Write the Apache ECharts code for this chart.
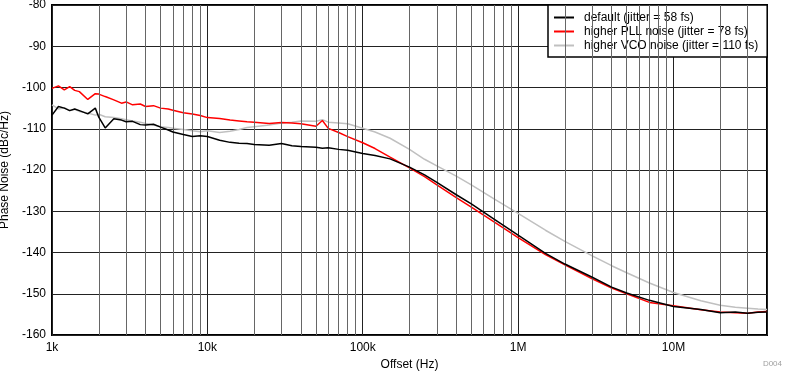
<!DOCTYPE html>
<html>
<head>
<meta charset="utf-8">
<script src="https://cdn.jsdelivr.net/npm/echarts@6/dist/echarts.min.js"></script>
<style>
html,body{margin:0;padding:0;background:#fff;}
#chart{width:785px;height:371px;}
</style>
</head>
<body>
<div id="chart"></div>
<script>
// Offset frequencies (Hz)
var freqs = [1000,1100,1200,1300,1400,1500,1700,1900,2000,2200,2500,2800,3000,3300,3700,4000,4500,5000,5600,6000,7000,8000,9000,10000,12000,14000,16000,18000,20000,25000,30000,35000,40000,50000,55000,60000,70000,80000,100000,120000,150000,200000,250000,300000,400000,500000,700000,1000000,1500000,2000000,3000000,4000000,5000000,7000000,10000000,15000000,20000000,25000000,30000000,35000000,40000000];

var seriesNames = ['default (jitter = 58 fs)','higher PLL noise (jitter = 78 fs)','higher VCO noise (jitter = 110 fs)'];

var defaultNoise = [-106.7,-104.6,-105.0,-105.6,-105.2,-105.6,-106.4,-105.0,-107.2,-109.8,-107.6,-107.9,-108.3,-108.2,-109.0,-109.1,-108.9,-109.6,-110.3,-110.8,-111.4,-111.9,-111.7,-111.9,-112.8,-113.3,-113.5,-113.6,-113.8,-114.0,-113.6,-114.1,-114.3,-114.5,-114.7,-114.6,-115.0,-115.2,-116.0,-116.5,-117.3,-119.3,-121.2,-123.0,-126.0,-128.2,-131.9,-135.8,-140.2,-142.8,-146.0,-148.4,-149.8,-151.6,-153.1,-153.8,-154.6,-154.4,-154.7,-154.5,-154.4];

var pllNoise = [-100.2,-99.6,-100.6,-99.8,-100.7,-101.0,-102.9,-101.5,-101.6,-102.2,-103.0,-103.8,-103.5,-104.2,-104.0,-104.6,-104.4,-105.0,-105.2,-105.5,-106.1,-106.4,-106.8,-107.3,-107.5,-107.9,-108.1,-108.3,-108.4,-108.7,-108.5,-108.6,-108.8,-109.4,-108.0,-109.9,-110.9,-111.9,-113.4,-114.8,-116.9,-119.5,-121.6,-123.6,-126.7,-129.0,-132.6,-136.4,-140.5,-143.0,-146.4,-148.6,-150.0,-152.1,-152.9,-153.9,-154.4,-154.6,-154.7,-154.4,-154.3];

var vcoNoise = [-104.2,-105.2,-104.9,-105.6,-105.3,-105.8,-106.2,-106.7,-106.5,-107.1,-107.3,-107.6,-107.8,-108.1,-108.4,-108.7,-109.1,-109.5,-109.7,-109.9,-110.2,-110.5,-110.7,-110.5,-110.9,-110.6,-110.2,-109.7,-109.5,-109.1,-108.6,-108.4,-108.1,-108.2,-107.8,-108.4,-108.6,-108.8,-109.9,-110.8,-112.3,-115.0,-117.4,-119.0,-121.5,-123.6,-127.0,-130.5,-134.6,-137.3,-140.8,-143.2,-144.9,-147.4,-149.7,-151.7,-152.8,-153.3,-153.5,-153.7,-153.8];

// minor grid positions (2..9 per decade)
var minorGrid = [];
[1e3,1e4,1e5,1e6,1e7].forEach(function(d){
  for (var k=2;k<=9;k++){ var v=d*k; if (v<4e7) minorGrid.push(v); }
});
var xLabels = {1000:'1k',10000:'10k',100000:'100k',1000000:'1M',10000000:'10M'};

function pairs(vals){ return freqs.map(function(f,i){ return [f, vals[i]]; }); }

var chart = echarts.init(document.getElementById('chart'), null, {renderer:'canvas'});
var font = 'Liberation Sans, Arial, sans-serif';
chart.setOption({
  animation:false,
  backgroundColor:'#fff',
  textStyle:{fontFamily:font},
  grid:{left:52,top:5,right:18,bottom:36,containLabel:false,outerBoundsMode:'none',show:true,borderColor:'#000',borderWidth:2,backgroundColor:'transparent'},
  xAxis:{
    type:'log', logBase:10, min:1000, max:40000000,
    name:'Offset (Hz)', nameLocation:'middle', nameGap:20,
    nameTextStyle:{color:'#000',fontSize:12,fontFamily:font},
    axisLine:{show:false},
    axisTick:{show:false},
    axisLabel:{color:'#000',fontSize:12,fontFamily:font,margin:7,
      formatter:function(v){ return xLabels[Math.round(v)] || ''; }},
    splitLine:{show:true,lineStyle:{color:'#222',width:1}},
    minorTick:{show:false}, minorSplitLine:{show:false}
  },
  yAxis:{
    type:'value', min:-160, max:-80, interval:10,
    name:'Phase Noise (dBc/Hz)', nameLocation:'middle', nameGap:32,
    nameTextStyle:{color:'#000',fontSize:12,fontFamily:font},
    axisLine:{show:false}, axisTick:{show:false},
    axisLabel:{color:'#000',fontSize:12,fontFamily:font,margin:6},
    splitLine:{show:true,lineStyle:{color:'#222',width:1}}
  },
  legend:{
    orient:'vertical', left:548, top:5,
    data:seriesNames,
    icon:'rect', itemWidth:20, itemHeight:2, itemGap:1,
    backgroundColor:'#fff', borderColor:'#000', borderWidth:1.5,
    padding:[6,9,5,6],
    textStyle:{color:'#000',fontSize:12,fontFamily:font,lineHeight:13,padding:[0,0,0,5]}
  },
  series:[
    {type:'line', name:'minor', silent:true, data:[], symbol:'none', z:1,
     markLine:{silent:true, symbol:['none','none'], label:{show:false},
       lineStyle:{color:'#666',width:1,type:'solid'},
       data:minorGrid.map(function(v){return {xAxis:v};})}},
    {type:'line', name:seriesNames[2], data:pairs(vcoNoise), symbol:'none', color:'#c0c0c0', lineStyle:{width:1.5,color:'#c0c0c0'}, z:3},
    {type:'line', name:seriesNames[1], data:pairs(pllNoise), symbol:'none', color:'#ff0000', lineStyle:{width:1.5,color:'#ff0000'}, z:4},
    {type:'line', name:seriesNames[0], data:pairs(defaultNoise), symbol:'none', color:'#000000', lineStyle:{width:1.5,color:'#000000'}, z:5}
  ],
  graphic:[{type:'text', right:3, bottom:3, style:{text:'D004', fill:'#a0a0a0', fontSize:8, fontFamily:font}}]
});
</script>
</body>
</html>
